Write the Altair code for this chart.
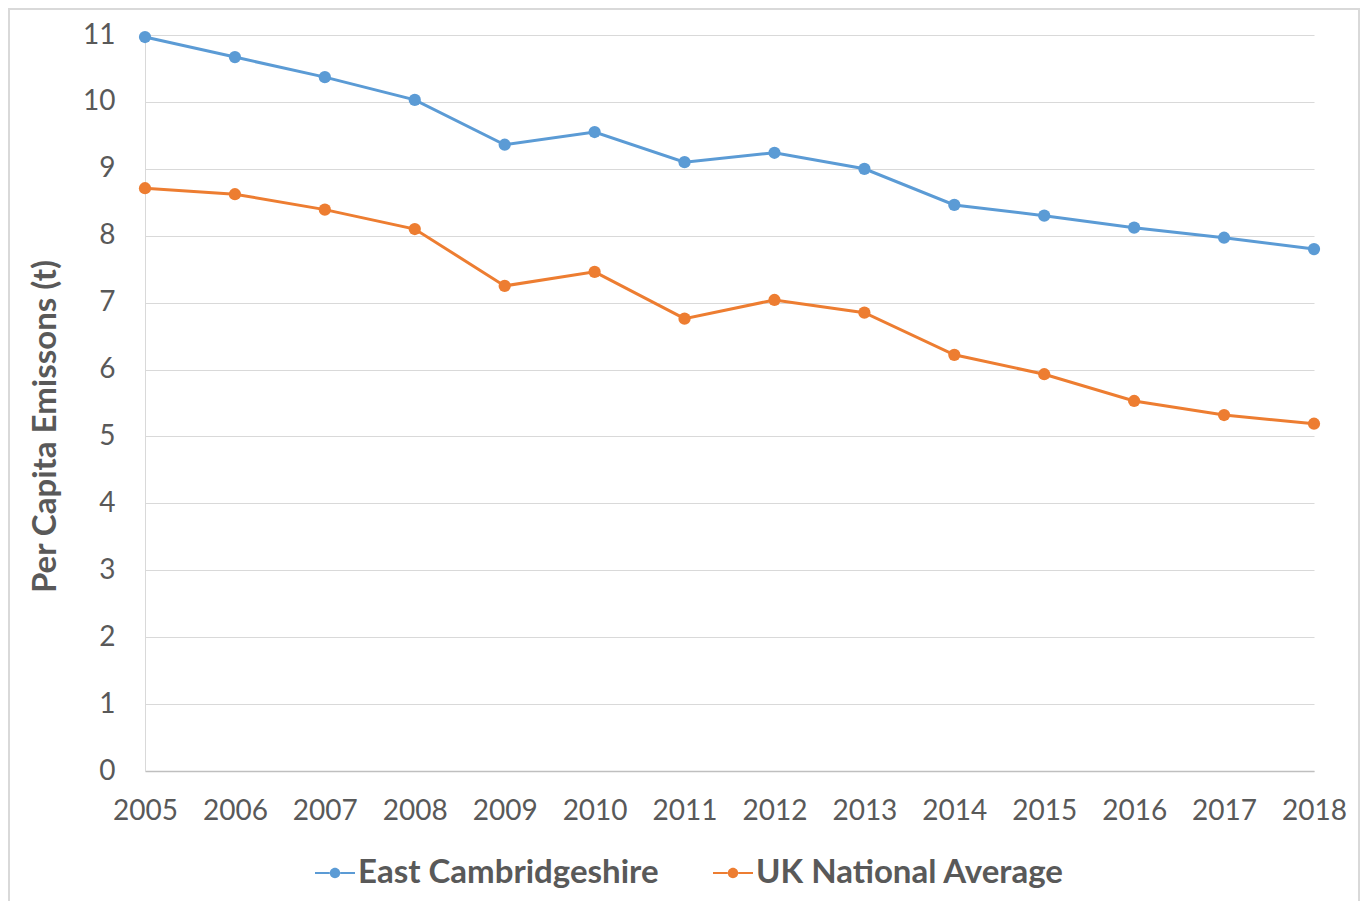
import altair as alt
import pandas as pd

years = list(range(2005, 2019))
east_cambs = [10.97, 10.67, 10.37, 10.03, 9.36, 9.55, 9.10, 9.24, 9.00, 8.46, 8.30, 8.12, 7.97, 7.80]
uk_avg = [8.71, 8.62, 8.39, 8.10, 7.25, 7.46, 6.76, 7.04, 6.85, 6.22, 5.93, 5.53, 5.32, 5.19]
series_names = ["East Cambridgeshire", "UK National Average"]
colors = ["#5B9BD5", "#ED7D31"]

rows = []
for y, a, b in zip(years, east_cambs, uk_avg):
    rows.append({"year": y, "series": series_names[0], "value": a})
    rows.append({"year": y, "series": series_names[1], "value": b})
df = pd.DataFrame(rows)

FONT = "Lato"
GREY = "#595959"

sym = ("M-1,-0.05H-0.25V0.05H-1Z M0.25,-0.05H1V0.05H0.25Z "
       "M-0.26,0 A0.26,0.26 0 1,0 0.26,0 A0.26,0.26 0 1,0 -0.26,0 Z")

x = alt.X("year:Q", scale=alt.Scale(domain=[2005, 2018], nice=False, zero=False),
          axis=alt.Axis(values=years, format="d", title=None, grid=False, ticks=False,
                        labelFontSize=28, labelColor=GREY, labelFont=FONT, labelPadding=26,
                        domainColor="#BFBFBF", domainWidth=1.3, labelFlush=False))
y = alt.Y("value:Q", scale=alt.Scale(domain=[0, 11], nice=False),
          axis=alt.Axis(values=list(range(0, 12)), title="Per Capita Emissons (t)",
                        titleFontSize=33, titleFont=FONT, titleFontWeight="bold", titleColor=GREY,
                        titleX=-100, titleY=391, titleBaseline="middle",
                        labelFontSize=28, labelColor=GREY, labelFont=FONT,
                        labelPadding=30, ticks=False, domainColor="#D9D9D9",
                        gridColor="#D9D9D9", gridWidth=1))
color = alt.Color("series:N", scale=alt.Scale(domain=series_names, range=colors),
                  legend=alt.Legend(title=None, orient="none", direction="horizontal",
                                    legendX=170, legendY=818,
                                    symbolType=sym, symbolSize=1600, symbolStrokeWidth=0,
                                    labelFontSize=33, labelFont=FONT, labelFontWeight="bold",
                                    labelColor=GREY, labelOffset=3, columnPadding=54,
                                    labelLimit=500))

base = alt.Chart(df)
lines = base.mark_line(strokeWidth=3).encode(x=x, y=y, color=color)
points = base.mark_point(filled=True, size=150, opacity=1).encode(x=x, y=y, color=color)

border = alt.Chart(df).mark_rect(fill=None, stroke="#D9D9D9", strokeWidth=2, clip=False).encode(
    x=alt.value(-136), x2=alt.value(1214), y=alt.value(-26), y2=alt.value(880))

chart = alt.layer(border, lines, points).properties(
    width=1169, height=736,
    padding={"left": 137, "top": 27, "right": 47, "bottom": 130},
    autosize=alt.AutoSizeParams(type="none"),
).configure_view(stroke=None)

chart.save("out.html", embed_options={"renderer": "svg", "actions": False})
